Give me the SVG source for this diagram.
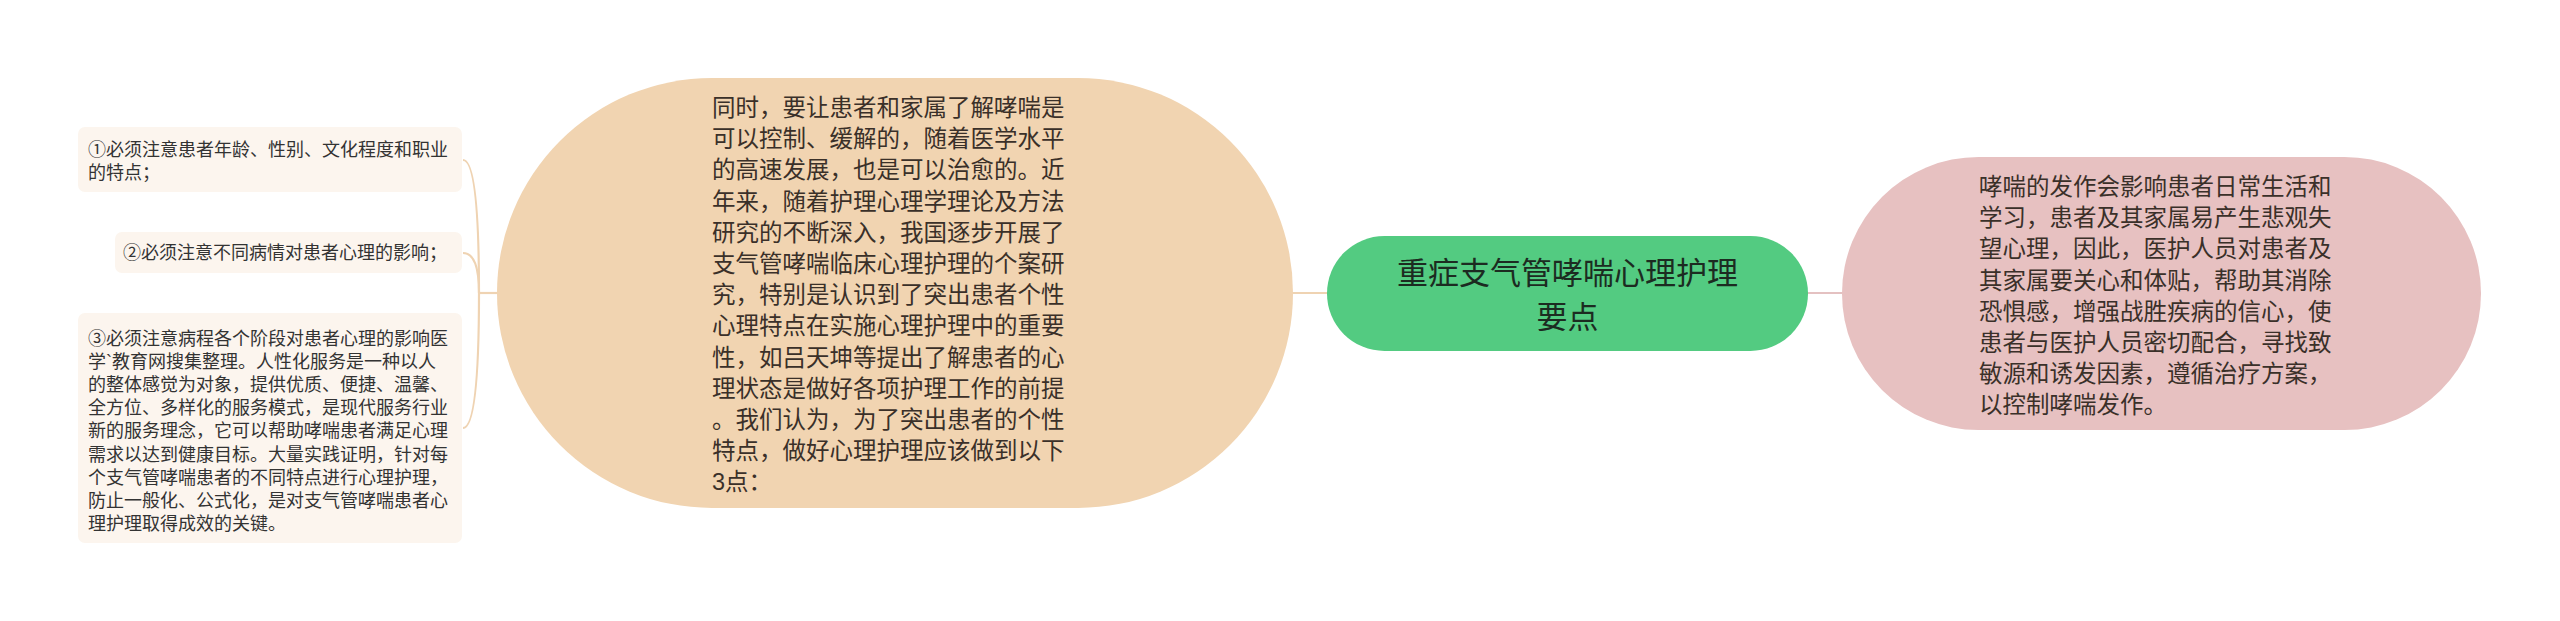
<svg xmlns="http://www.w3.org/2000/svg" width="2560" height="621" viewBox="0 0 2560 621">
<style>
text{font-family:"Liberation Sans","Noto Sans CJK SC",sans-serif;}
.leaf{fill:#fcf5ee;}
.leaft{font-size:18px;fill:#333333;}
.big{font-size:23.5px;fill:#3a3029;}
.root{font-size:31px;fill:#1c2b21;text-anchor:middle;}
.cb{fill:none;stroke:#efd3b2;stroke-width:2.2;}
.cp{fill:none;stroke:#e4c1c1;stroke-width:2.2;}
</style>
<rect width="2560" height="621" fill="#ffffff"/>
<g id="connectors">
<path class="cb" d="M463,160 Q479,160 479,293"/>
<path class="cb" d="M463,253 Q479,253 479,293"/>
<path class="cb" d="M463,428 Q479,428 479,293"/>
<path class="cb" d="M479,293 L498,293"/>
<path class="cb" d="M1292,293 L1328,293"/>
<path class="cp" d="M1807,293 L1843,293"/>
</g>
<g id="leaf1">
<rect class="leaf" x="78" y="127" width="384" height="65" rx="7"/>
<text class="leaft"><tspan x="88" y="155.5">①必须注意患者年龄、性别、文化程度和职业</tspan><tspan x="88" y="178.5">的特点；</tspan></text>
</g>
<g id="leaf2">
<rect class="leaf" x="115" y="232" width="347" height="41" rx="7"/>
<text class="leaft" x="123" y="259.3">②必须注意不同病情对患者心理的影响；</text>
</g>
<g id="leaf3">
<rect class="leaf" x="78" y="313" width="384" height="230" rx="7"/>
<text class="leaft"><tspan x="88" y="344.5">③必须注意病程各个阶段对患者心理的影响医</tspan><tspan x="88" y="367.7">学`教育网搜集整理。人性化服务是一种以人</tspan><tspan x="88" y="390.9">的整体感觉为对象，提供优质、便捷、温馨、</tspan><tspan x="88" y="414.1">全方位、多样化的服务模式，是现代服务行业</tspan><tspan x="88" y="437.3">新的服务理念，它可以帮助哮喘患者满足心理</tspan><tspan x="88" y="460.5">需求以达到健康目标。大量实践证明，针对每</tspan><tspan x="88" y="483.7">个支气管哮喘患者的不同特点进行心理护理，</tspan><tspan x="88" y="506.9">防止一般化、公式化，是对支气管哮喘患者心</tspan><tspan x="88" y="530.1">理护理取得成效的关键。</tspan></text>
</g>
<g id="branch-left">
<rect x="497" y="78" width="796" height="430" rx="215" fill="#f1d4b1"/>
<text class="big"><tspan x="712" y="116">同时，要让患者和家属了解哮喘是</tspan><tspan x="712" y="147.2">可以控制、缓解的，随着医学水平</tspan><tspan x="712" y="178.4">的高速发展，也是可以治愈的。近</tspan><tspan x="712" y="209.6">年来，随着护理心理学理论及方法</tspan><tspan x="712" y="240.8">研究的不断深入，我国逐步开展了</tspan><tspan x="712" y="272">支气管哮喘临床心理护理的个案研</tspan><tspan x="712" y="303.2">究，特别是认识到了突出患者个性</tspan><tspan x="712" y="334.4">心理特点在实施心理护理中的重要</tspan><tspan x="712" y="365.6">性，如吕天坤等提出了解患者的心</tspan><tspan x="712" y="396.8">理状态是做好各项护理工作的前提</tspan><tspan x="712" y="428">。我们认为，为了突出患者的个性</tspan><tspan x="712" y="459.2">特点，做好心理护理应该做到以下</tspan><tspan x="712" y="490.4">3点：</tspan></text>
</g>
<g id="root">
<rect x="1327" y="236" width="481" height="115" rx="57.5" fill="#53cb81"/>
<text class="root"><tspan x="1567.5" y="283.5">重症支气管哮喘心理护理</tspan><tspan x="1567.5" y="328">要点</tspan></text>
</g>
<g id="branch-right">
<rect x="1842" y="157" width="639" height="273" rx="136.5" fill="#e7c1c1"/>
<text class="big"><tspan x="1979" y="195">哮喘的发作会影响患者日常生活和</tspan><tspan x="1979" y="226.2">学习，患者及其家属易产生悲观失</tspan><tspan x="1979" y="257.4">望心理，因此，医护人员对患者及</tspan><tspan x="1979" y="288.6">其家属要关心和体贴，帮助其消除</tspan><tspan x="1979" y="319.8">恐惧感，增强战胜疾病的信心，使</tspan><tspan x="1979" y="351">患者与医护人员密切配合，寻找致</tspan><tspan x="1979" y="382.2">敏源和诱发因素，遵循治疗方案，</tspan><tspan x="1979" y="413.4">以控制哮喘发作。</tspan></text>
</g>
</svg>
